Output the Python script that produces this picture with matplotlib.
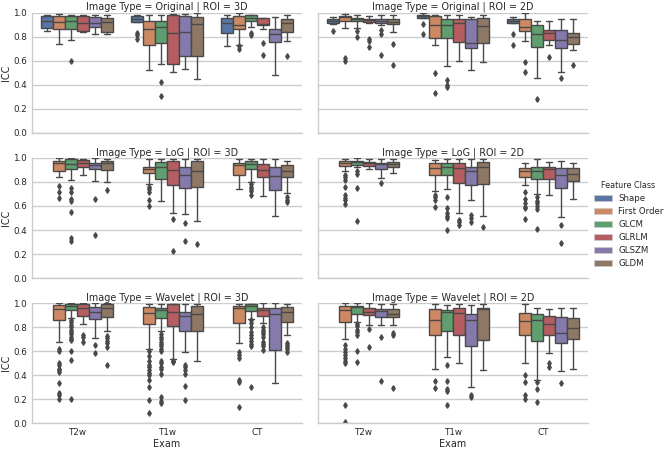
import colorsys
import matplotlib
matplotlib.use("Agg")
import matplotlib.pyplot as plt
from matplotlib.patches import Patch
import seaborn as sns

EXAMS = ["T2w", "T1w", "CT"]
CLASSES = ["Shape", "First Order", "GLCM", "GLRLM", "GLSZM", "GLDM"]
IMAGE_TYPES = ["Original", "LoG", "Wavelet"]
ROIS = ["3D", "2D"]

# each box: (whisker low, q1, median, q3, whisker high); None = no data
ORIG_3D = [
    [(0.845, 0.87, 0.934, 0.972, 0.983), (0.74, 0.86, 0.92, 0.97, 0.99), (0.77, 0.86, 0.93, 0.97, 0.98),
     (0.84, 0.85, 0.917, 0.97, 0.98), (0.82, 0.88, 0.917, 0.96, 0.98), (0.82, 0.84, 0.92, 0.955, 0.98)],
    [(0.92, 0.92, 0.95, 0.97, 0.98), (0.52, 0.727, 0.867, 0.93, 0.98), (0.575, 0.75, 0.884, 0.934, 0.98),
     (0.503, 0.575, 0.83, 0.983, 0.99), (0.53, 0.64, 0.84, 0.972, 0.99), (0.447, 0.64, 0.906, 0.967, 1.0)],
    [(0.724, 0.834, 0.917, 0.956, 0.98), (0.73, 0.867, 0.9, 0.972, 0.994), (0.878, 0.934, 0.956, 0.978, 0.978),
     (0.867, 0.895, 0.906, 0.956, 0.956), (0.48, 0.757, 0.818, 0.867, 0.96), (0.76, 0.84, 0.91, 0.945, 0.983)],
]
ORIG_3D_FLIERS = [
    [[], [], [0.60], [], [], []],
    [[0.83, 0.81, 0.78], [], [0.42, 0.31], [], [], []],
    [[], [0.72, 0.70], [0.83, 0.81], [0.75, 0.65], [], [0.64]],
]

ORIG_2D = [
    [(0.906, 0.917, 0.934, 0.945, 0.967), (0.873, 0.934, 0.96, 0.972, 0.99), (0.873, 0.928, 0.945, 0.956, 0.98),
     (0.917, 0.922, 0.94, 0.95, 0.972), (0.895, 0.91, 0.934, 0.945, 0.978), (0.84, 0.906, 0.922, 0.95, 0.978)],
    [(0.956, 0.956, 0.972, 0.978, 0.994), (0.73, 0.785, 0.895, 0.972, 0.978), (0.552, 0.785, 0.9, 0.945, 0.978),
     (0.597, 0.757, 0.917, 0.95, 0.978), (0.525, 0.707, 0.746, 0.945, 0.961), (0.59, 0.75, 0.89, 0.956, 0.983)],
    [(0.917, 0.917, 0.934, 0.945, 0.967), (0.762, 0.845, 0.878, 0.95, 0.994), (0.453, 0.713, 0.818, 0.895, 0.934),
     (0.729, 0.768, 0.829, 0.851, 0.928), (0.503, 0.702, 0.773, 0.851, 0.945), (0.685, 0.74, 0.80, 0.829, 0.945)],
]
ORIG_2D_FLIERS = [
    [[0.85], [0.62, 0.60], [0.845, 0.80], [0.78, 0.76, 0.71], [0.856, 0.82, 0.646], [0.74, 0.56]],
    [[0.906, 0.823], [0.50, 0.33], [0.436, 0.40, 0.38], [], [], []],
    [[0.818, 0.729], [0.59, 0.508], [0.282], [0.63], [0.453], [0.56]],
]

LOG_3D = [
    [None, (0.84, 0.894, 0.956, 0.978, 1.0), (0.817, 0.91, 0.95, 0.99, 1.0), (0.86, 0.922, 0.961, 0.983, 0.994),
     (0.81, 0.906, 0.944, 0.96, 1.0), (0.8, 0.9, 0.956, 0.978, 0.994)],
    [None, (0.783, 0.872, 0.911, 0.922, 0.994), (0.644, 0.828, 0.922, 0.967, 0.994), (0.544, 0.778, 0.9, 0.972, 0.994),
     (0.533, 0.75, 0.856, 0.922, 0.994), (0.478, 0.756, 0.889, 0.972, 0.994)],
    [None, (0.739, 0.856, 0.939, 0.956, 0.994), (0.8, 0.906, 0.95, 0.978, 0.989), (0.683, 0.839, 0.9, 0.95, 0.989),
     (0.517, 0.733, 0.85, 0.928, 0.989), (0.706, 0.839, 0.889, 0.939, 0.978)],
]
LOG_3D_FLIERS = [
    [[], [0.77, 0.72, 0.67], [0.75, 0.717, 0.66, 0.644, 0.55, 0.333, 0.311], [], [0.66, 0.36], [0.733]],
    [[], [0.76, 0.74, 0.72, 0.65, 0.6], [], [0.49, 0.228], [0.456, 0.311], [0.283]],
    [[], [], [0.78, 0.76, 0.744, 0.728, 0.694], [], [], [0.672, 0.65, 0.633]],
]

LOG_2D = [
    [None, (0.889, 0.933, 0.956, 0.978, 0.994), (0.928, 0.944, 0.967, 0.978, 1.0), (0.906, 0.933, 0.956, 0.967, 0.989),
     (0.833, 0.906, 0.95, 0.961, 0.989), (0.872, 0.928, 0.95, 0.967, 0.994)],
    [None, (0.728, 0.861, 0.917, 0.956, 0.983), (0.744, 0.856, 0.922, 0.956, 0.989), (0.544, 0.789, 0.917, 0.961, 0.989),
     (0.65, 0.772, 0.894, 0.922, 0.994), (0.517, 0.783, 0.928, 0.967, 0.994)],
    [None, (0.772, 0.844, 0.894, 0.917, 0.961), (0.7, 0.828, 0.889, 0.922, 0.994), (0.689, 0.828, 0.906, 0.922, 0.967),
     (0.506, 0.75, 0.861, 0.917, 0.978), (0.661, 0.806, 0.867, 0.917, 0.956)],
]
LOG_2D_FLIERS = [
    [[], [0.86, 0.84, 0.82, 0.76, 0.69, 0.67, 0.65, 0.62], [0.889, 0.867, 0.75, 0.478], [], [0.794], []],
    [[], [0.694, 0.672, 0.65, 0.594], [0.672, 0.583, 0.544, 0.517, 0.5, 0.4], [0.483, 0.467, 0.444],
     [0.522, 0.5, 0.467], [0.428]],
    [[], [0.717, 0.661, 0.622, 0.594, 0.583, 0.489], [0.672, 0.644, 0.622, 0.6, 0.572, 0.411], [],
     [0.439, 0.294], []],
]

WAV_3D = [
    [None, (0.678, 0.861, 0.95, 0.983, 1.0), (0.878, 0.944, 0.978, 0.989, 1.0), (0.828, 0.894, 0.956, 0.989, 1.0),
     (0.711, 0.867, 0.928, 0.967, 1.0), (0.767, 0.883, 0.956, 0.989, 1.0)],
    [None, (0.622, 0.828, 0.922, 0.967, 0.994), (0.767, 0.878, 0.944, 0.961, 0.994), (0.539, 0.806, 0.928, 0.989, 0.994),
     (0.594, 0.767, 0.894, 0.928, 0.994), (0.522, 0.772, 0.911, 0.978, 0.994)],
    [None, (0.667, 0.833, 0.956, 0.978, 0.994), (0.872, 0.933, 0.978, 0.989, 0.994), (0.833, 0.894, 0.939, 0.956, 1.0),
     (0.333, 0.611, 0.911, 0.961, 1.0), (0.733, 0.844, 0.928, 0.967, 0.994)],
]
WAV_3D_FLIERS = [
    [[], [0.622, 0.606, 0.506, 0.489, 0.456, 0.444, 0.428, 0.339, 0.256, 0.239, 0.206],
     [0.86, 0.84, 0.82, 0.80, 0.78, 0.76, 0.74, 0.72, 0.70, 0.69, 0.60, 0.53, 0.20],
     [0.739, 0.722, 0.678], [0.656, 0.583], [0.728, 0.711, 0.689, 0.667, 0.639, 0.483]],
    [[], [0.6, 0.561, 0.522, 0.489, 0.467, 0.444, 0.422, 0.406, 0.361, 0.306, 0.194, 0.089],
     [0.74, 0.72, 0.70, 0.68, 0.66, 0.64, 0.62, 0.60, 0.52, 0.50, 0.47, 0.45, 0.41, 0.22, 0.19, 0.17],
     [0.522, 0.517, 0.51], [0.483, 0.467, 0.444, 0.411, 0.311, 0.194], []],
    [[], [0.594, 0.572, 0.544, 0.361, 0.344, 0.139],
     [0.856, 0.833, 0.8, 0.756, 0.733, 0.711, 0.689, 0.661, 0.644, 0.306],
     [0.80, 0.78, 0.76, 0.74, 0.72, 0.68, 0.66, 0.64, 0.61], [], [0.672, 0.65, 0.633, 0.617, 0.594]],
]

WAV_2D = [
    [None, (0.7, 0.844, 0.944, 0.978, 1.0), (0.844, 0.911, 0.967, 0.978, 1.0), (0.817, 0.9, 0.928, 0.956, 1.0),
     (0.822, 0.883, 0.933, 0.95, 0.994), (0.822, 0.883, 0.911, 0.95, 0.994)],
    [None, (0.456, 0.739, 0.861, 0.95, 0.989), (0.556, 0.767, 0.928, 0.939, 0.983), (0.506, 0.739, 0.917, 0.956, 0.989),
     (0.3, 0.644, 0.861, 0.911, 0.983), (0.444, 0.694, 0.95, 0.961, 0.989)],
    [None, (0.5, 0.739, 0.85, 0.917, 0.989), (0.361, 0.689, 0.856, 0.911, 0.956), (0.583, 0.739, 0.828, 0.889, 0.95),
     (0.433, 0.672, 0.75, 0.883, 0.956), (0.45, 0.7, 0.794, 0.878, 0.956)],
]
WAV_2D_FLIERS = [
    [[], [0.656, 0.622, 0.594, 0.572, 0.544, 0.522, 0.506, 0.15, 0.011],
     [0.828, 0.806, 0.778, 0.756, 0.739, 0.606, 0.511], [0.789, 0.633], [0.722, 0.356], [0.75, 0.733, 0.294]],
    [[], [0.35, 0.294], [0.489, 0.35, 0.283, 0.267, 0.156], [], [0.233, 0.217], []],
    [[], [0.4, 0.344, 0.239, 0.206], [0.344, 0.289, 0.178], [0.5, 0.467], [0.339], []],
]

PANELS = [
    [(ORIG_3D, ORIG_3D_FLIERS), (ORIG_2D, ORIG_2D_FLIERS)],
    [(LOG_3D, LOG_3D_FLIERS), (LOG_2D, LOG_2D_FLIERS)],
    [(WAV_3D, WAV_3D_FLIERS), (WAV_2D, WAV_2D_FLIERS)],
]


def desaturate(c, prop=0.75):
    h, l, s = colorsys.rgb_to_hls(*c)
    return colorsys.hls_to_rgb(h, l, s * prop)


sns.set_style("whitegrid")
colors = [desaturate(c) for c in sns.color_palette("deep", 6)]
lum = min(colorsys.rgb_to_hls(*c)[1] for c in colors) * 0.6
gray = (lum, lum, lum)
text_col = ".15"

fig, axes = plt.subplots(3, 2, figsize=(6.69, 4.49), dpi=100, sharex=True, sharey=True)
fig.subplots_adjust(left=0.048, right=0.879, top=0.972, bottom=0.057, wspace=0.059, hspace=0.208)

step = 0.8 / len(CLASSES)
width = step * 0.98
lw = 1.0

for r, itype in enumerate(IMAGE_TYPES):
    for c, roi in enumerate(ROIS):
        ax = axes[r, c]
        boxes, fliers = PANELS[r][c]
        for xi in range(len(EXAMS)):
            for hi in range(len(CLASSES)):
                b = boxes[xi][hi]
                if b is None:
                    continue
                lo, q1, med, q3, top = b
                stats = [dict(whislo=lo, q1=q1, med=med, q3=q3, whishi=top, fliers=fliers[xi][hi])]
                pos = xi - 0.4 + step * (hi + 0.5)
                ax.bxp(stats, positions=[pos], widths=[width], patch_artist=True, manage_ticks=False,
                       boxprops=dict(facecolor=colors[hi], edgecolor=gray, linewidth=lw),
                       medianprops=dict(color=gray, linewidth=lw),
                       whiskerprops=dict(color=gray, linewidth=lw),
                       capprops=dict(color=gray, linewidth=lw),
                       flierprops=dict(marker="d", markersize=2.8, markerfacecolor=gray,
                                       markeredgecolor=gray, linestyle="none"))
        ax.set_xlim(-0.5, 2.5)
        ax.set_ylim(0, 1)
        ax.set_yticks([0.0, 0.2, 0.4, 0.6, 0.8, 1.0])
        ax.set_xticks(range(len(EXAMS)))
        ax.set_xticklabels(EXAMS)
        ax.xaxis.grid(False)
        ax.yaxis.grid(True, color=".8", linewidth=1.0)
        ax.set_axisbelow(True)
        for s in ["top", "right"]:
            ax.spines[s].set_visible(False)
        for s in ["left", "bottom"]:
            ax.spines[s].set_color(".8")
            ax.spines[s].set_linewidth(1.0)
        ax.tick_params(length=0, labelsize=6.3, labelcolor=text_col, pad=3.5)
        ax.set_title(f"Image Type = {itype} | ROI = {roi}", fontsize=6.9, color=text_col, pad=2)
        if c == 0:
            ax.set_ylabel("ICC", fontsize=6.9, color=text_col, labelpad=2)
        if r == 2:
            ax.set_xlabel("Exam", fontsize=6.9, color=text_col, labelpad=1)

handles = [Patch(facecolor=colors[i], edgecolor=(0.8, 0.8, 0.8), linewidth=0.5, label=CLASSES[i])
           for i in range(len(CLASSES))]
leg = fig.legend(handles=handles, loc="center left", bbox_to_anchor=(0.882, 0.5), borderaxespad=0,
                 frameon=False, fontsize=6.2, title="Feature Class", title_fontsize=5.8,
                 handlelength=2.1, handleheight=0.7, labelspacing=0.48, handletextpad=0.75)
for t in leg.get_texts():
    t.set_color(text_col)
leg.get_title().set_color(text_col)

fig.savefig("out.png", dpi=100)
